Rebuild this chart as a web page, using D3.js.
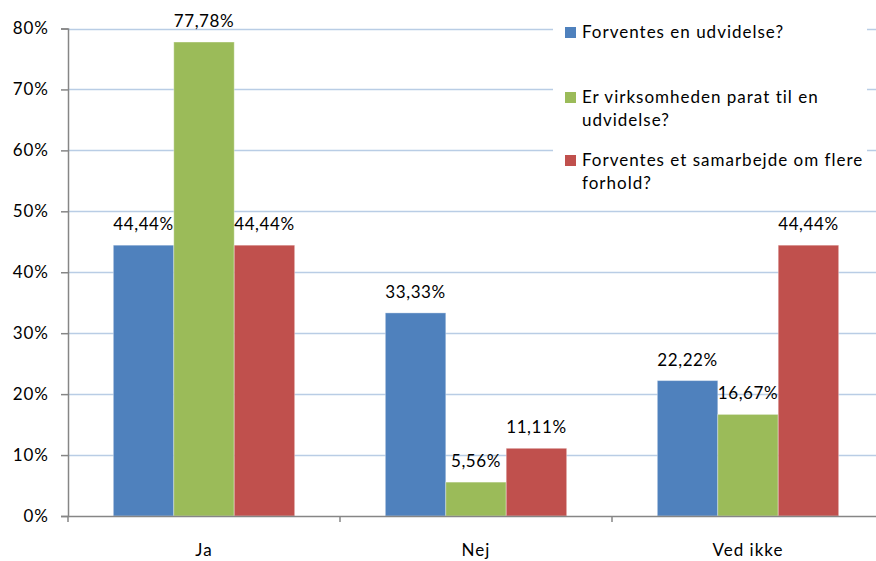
<!DOCTYPE html>
<html>
<head>
<meta charset="utf-8">
<script src="https://cdn.jsdelivr.net/npm/d3@7"></script>
<style>
  body { margin: 0; background: #fff; }
  svg text { font-family: Lato, "Open Sans", sans-serif; fill: #000; letter-spacing: 1px; }
</style>
</head>
<body>
<svg id="chart" width="876" height="561"></svg>
<script>
// Survey answers per category (percent)
const categories = ["Ja", "Nej", "Ved ikke"];
const seriesNames = [
  "Forventes en udvidelse?",
  "Er virksomheden parat til en udvidelse?",
  "Forventes et samarbejde om flere forhold?"
];
const legendLines = [
  ["Forventes en udvidelse?"],
  ["Er virksomheden parat til en", "udvidelse?"],
  ["Forventes et samarbejde om flere", "forhold?"]
];
const udvidelse = [44.44, 33.33, 22.22];
const parat = [77.78, 5.56, 16.67];
const samarbejde = [44.44, 11.11, 44.44];
const yTicks = [0, 10, 20, 30, 40, 50, 60, 70, 80];
const colors = ["#4f81bd", "#9bbb59", "#c0504d"];

const series = [udvidelse, parat, samarbejde];
const svg = d3.select("#chart");

const plotLeft = 68, plotRight = 884, plotTop = 28.5, plotBottom = 516;
const fontSize = 17;

const x = d3.scaleBand().domain(categories).range([plotLeft, plotRight]).paddingInner(0).paddingOuter(0);
const xInner = d3.scaleBand().domain(d3.range(series.length)).range([0, x.bandwidth()]).paddingInner(0).paddingOuter(0.75);
const y = d3.scaleLinear().domain([0, 80]).range([plotBottom, plotTop]);

const fmt = v => v.toFixed(2).replace(".", ",") + "%";

// Gridlines
svg.append("g")
  .selectAll("line")
  .data(yTicks.filter(t => t > 0))
  .join("line")
  .attr("x1", plotLeft).attr("x2", 876)
  .attr("y1", d => Math.round(y(d)) + 0.5).attr("y2", d => Math.round(y(d)) + 0.5)
  .attr("stroke", "#b9cde5").attr("stroke-width", 1.5);

// Legend background hides the gridlines behind it
svg.append("rect")
  .attr("x", 553).attr("y", 14).attr("width", 314).attr("height", 186)
  .attr("fill", "#fff");

// Bars
const groups = svg.append("g")
  .selectAll("g")
  .data(series)
  .join("g")
  .attr("fill", (d, i) => colors[i]);

groups.each(function(vals, si) {
  const g = d3.select(this);
  g.selectAll("rect")
    .data(vals.map((v, ci) => ({ v, c: categories[ci] })))
    .join("rect")
    .attr("x", d => x(d.c) + xInner(si))
    .attr("width", xInner.bandwidth())
    .attr("y", d => y(d.v))
    .attr("height", d => y(0) - y(d.v))
    .attr("stroke", "rgba(255,255,255,0.35)")
    .attr("stroke-width", 1);

  g.selectAll("text")
    .data(vals.map((v, ci) => ({ v, c: categories[ci] })))
    .join("text")
    .attr("x", d => x(d.c) + xInner(si) + xInner.bandwidth() / 2)
    .attr("y", d => y(d.v) - 15)
    .attr("text-anchor", "middle")
    .attr("font-size", fontSize)
    .style("letter-spacing", "0.6px")
    .text(d => fmt(d.v));
});

// Y axis
const yAxis = svg.append("g")
  .attr("transform", `translate(${plotLeft},0)`)
  .call(d3.axisLeft(y).tickValues(yTicks).tickSize(7).tickPadding(12).tickFormat(d => d + "%"));
yAxis.select(".domain").attr("stroke", "#868686").attr("stroke-width", 1.5);
yAxis.selectAll(".tick line").attr("stroke", "#868686").attr("stroke-width", 1.5);
yAxis.selectAll(".tick text").attr("font-size", fontSize).attr("font-family", "Lato, sans-serif").attr("fill", "#000");

// X axis
const xAxis = svg.append("g")
  .attr("transform", `translate(0,${plotBottom})`)
  .call(d3.axisBottom(x).tickSize(0).tickPadding(28));
xAxis.select(".domain").attr("stroke", "#868686").attr("stroke-width", 1.5);
xAxis.selectAll(".tick text").attr("font-size", fontSize).attr("font-family", "Lato, sans-serif").attr("fill", "#000");
// Boundary ticks between categories
xAxis.append("g")
  .selectAll("line")
  .data(d3.range(categories.length + 1))
  .join("line")
  .attr("x1", i => plotLeft + i * x.bandwidth()).attr("x2", i => plotLeft + i * x.bandwidth())
  .attr("y1", 0).attr("y2", 6)
  .attr("stroke", "#868686").attr("stroke-width", 1.5);

// Legend
const legendY = [32, 97, 160];
const legend = svg.append("g")
  .selectAll("g")
  .data(seriesNames)
  .join("g")
  .attr("transform", (d, i) => `translate(565,${legendY[i]})`);
legend.append("rect")
  .attr("x", 0).attr("y", -5).attr("width", 11).attr("height", 11)
  .attr("fill", (d, i) => colors[i]);
legend.append("text")
  .attr("x", 17).attr("y", 6)
  .attr("font-size", fontSize)
  .selectAll("tspan")
  .data((d, i) => legendLines[i])
  .join("tspan")
  .attr("x", 17)
  .attr("dy", (d, j) => j === 0 ? 0 : 23)
  .text(d => d);
</script>
</body>
</html>
